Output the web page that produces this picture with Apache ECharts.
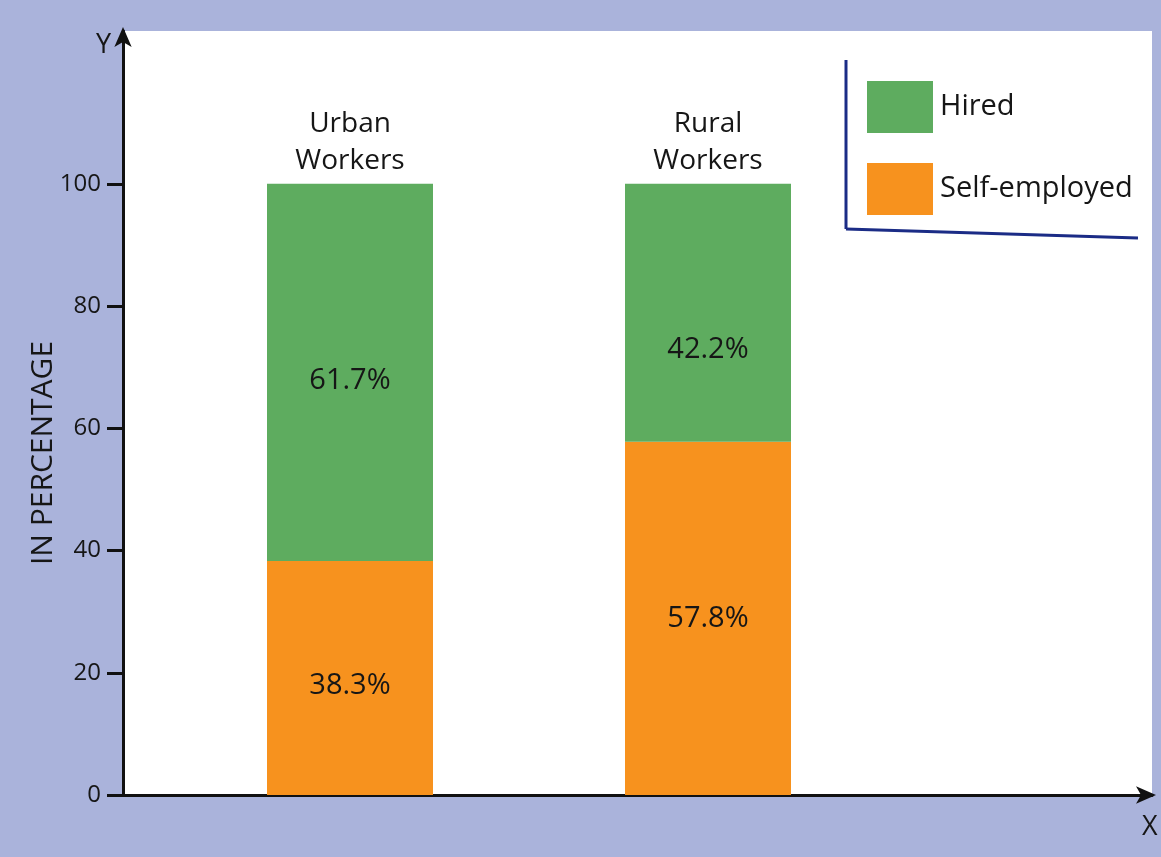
<!DOCTYPE html>
<html>
<head>
<meta charset="utf-8">
<script src="https://cdn.jsdelivr.net/npm/echarts@6/dist/echarts.min.js"></script>
<style>
html,body{margin:0;padding:0;background:#aab3db;}
#c{width:1161px;height:857px;}
</style>
</head>
<body>
<div id="c"></div>
<script>
const categories = ['Urban Workers', 'Rural Workers'];
const categoryLabels = ['Urban\nWorkers', 'Rural\nWorkers'];
const selfEmployed = [38.3, 57.8];
const hired = [61.7, 42.2];
const yTickValues = [0, 20, 40, 60, 80, 100];
const seriesNames = ['Hired', 'Self-employed'];

const FONT = '"Open Sans", "Noto Sans", sans-serif';
const TXT = '#161616';
const chart = echarts.init(document.getElementById('c'));

const gridTop = 31, gridBottom = 62;

chart.setOption({
  backgroundColor: '#aab3db',
  animation: false,
  textStyle: { fontFamily: FONT },
  grid: [
    { left: 123, right: 9, top: gridTop, bottom: gridBottom, show: true, backgroundColor: '#ffffff', borderWidth: 0 },
    { left: 171, width: 716, top: gridTop, bottom: gridBottom }
  ],
  xAxis: [
    { gridIndex: 0, type: 'value', min: 0, max: 10,
      axisLine: { show: true, lineStyle: { color: '#111', width: 3 }, symbol: ['none', 'arrow'], symbolSize: [13, 20], symbolOffset: [0, 4] },
      axisTick: { show: false }, axisLabel: { show: false }, splitLine: { show: false } },
    { gridIndex: 1, type: 'category', data: categories,
      axisLine: { show: false }, axisTick: { show: false }, axisLabel: { show: false } }
  ],
  yAxis: [
    { gridIndex: 0, type: 'value', min: 0, max: 125, interval: 20,
      axisLine: { show: true, lineStyle: { color: '#111', width: 3 }, symbol: ['none', 'arrow'], symbolSize: [13, 20], symbolOffset: [0, 4] },
      axisTick: { show: true, length: 16, lineStyle: { color: '#111', width: 3 }, customValues: yTickValues },
      axisLabel: { show: true, fontSize: 24, color: TXT, margin: 22, customValues: yTickValues, fontFamily: FONT },
      splitLine: { show: false } },
    { gridIndex: 1, type: 'value', min: 0, max: 125, show: false }
  ],
  legend: {
    orient: 'vertical', left: 862, top: 76, itemWidth: 66, itemHeight: 52, itemGap: 30,
    data: seriesNames, icon: 'rect',
    textStyle: { fontSize: 29, color: TXT, fontFamily: FONT, padding: [0, 0, 0, 2] }
  },
  series: [
    { name: 'Self-employed', type: 'bar', stack: 'total', xAxisIndex: 1, yAxisIndex: 1,
      barWidth: 166,
      data: selfEmployed.map((v, i) => i === 0 ? { value: v, label: { offset: [0, 8] } } : v),
      itemStyle: { color: '#f7921e' },
      label: { show: true, position: 'inside', fontSize: 29, color: TXT, fontFamily: FONT, formatter: p => p.value + '%' } },
    { name: 'Hired', type: 'bar', stack: 'total', xAxisIndex: 1, yAxisIndex: 1,
      barWidth: 166,
      data: hired.map((v, i) => ({ value: v, label: { offset: i === 1 ? [0, 37] : [0, 8] } })),
      itemStyle: { color: '#5eac5f' },
      label: { show: true, position: 'inside', fontSize: 29, color: TXT, fontFamily: FONT, formatter: p => p.value + '%' } },
    { name: 'names', type: 'bar', stack: 'total', xAxisIndex: 1, yAxisIndex: 1,
      barWidth: 166, data: [0, 0], itemStyle: { color: 'transparent' }, legendHoverLink: false,
      label: { show: true, position: 'top', distance: 4, fontSize: 28, lineHeight: 37, color: TXT, fontFamily: FONT,
        formatter: p => categoryLabels[p.dataIndex] } }
  ],
  graphic: [
    { type: 'text', left: 96, top: 32, style: { text: 'Y', fontSize: 27, fill: TXT, fontFamily: FONT } },
    { type: 'text', left: 1142, top: 814, style: { text: 'X', fontSize: 27, fill: TXT, fontFamily: FONT } },
    { type: 'text', x: 43, y: 453, rotation: Math.PI / 2,
      style: { text: 'IN PERCENTAGE', fontSize: 30, fill: TXT, fontFamily: FONT, align: 'center', verticalAlign: 'middle' } },
    { type: 'line', shape: { x1: 846, y1: 60, x2: 846, y2: 229 }, style: { stroke: '#1b2c86', lineWidth: 3 } },
    { type: 'line', shape: { x1: 846, y1: 229, x2: 1138, y2: 238 }, style: { stroke: '#1b2c86', lineWidth: 3 } }
  ]
});
</script>
</body>
</html>
